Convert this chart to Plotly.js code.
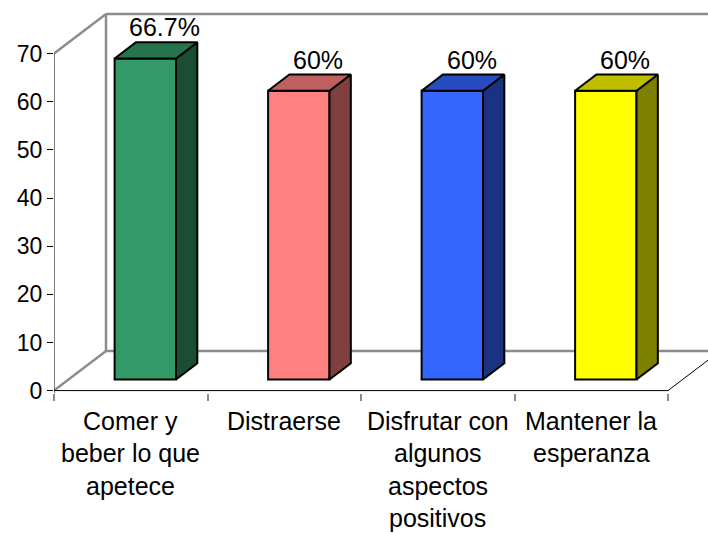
<!DOCTYPE html>
<html>
<head>
<meta charset="utf-8">
<script src="https://cdn.plot.ly/plotly-3.0.1.min.js"></script>
<style>html,body{margin:0;padding:0;background:#fff;}#chart{width:708px;height:533px;}</style>
</head>
<body>
<div id="chart"></div>
<script>
// ---- data ----
var categories = ["Comer y<br>beber lo que<br>apetece", "Distraerse", "Disfrutar con<br>algunos<br>aspectos<br>positivos", "Mantener la<br>esperanza"];
var values = [66.7, 60, 60, 60];
var valueLabels = ["66.7%", "60%", "60%", "60%"];
var yTicks = [0, 10, 20, 30, 40, 50, 60, 70];
var frontColors = ["#339966", "#FF8080", "#3366FF", "#FFFF00"];
var topColors = ["#26734D", "#BF6060", "#264CBF", "#BFBF00"];
var sideColors = ["#1A4D33", "#804040", "#1A3380", "#808000"];

// ---- 3D geometry (layout constants) ----
var PXX = 153.5, PXY = 4.814;
var DX = 52 / PXX, DY = 39.5 / PXY;     // depth offset of back wall, in data units
var F1 = 0.28, F2 = 0.69;               // bar front / back depth fractions
var BW = 0.4;
var font = "Liberation Sans, Arial, Helvetica, sans-serif";

var traces = [];
var xs = [], bases = [];
categories.forEach(function (c, i) {
  xs.push(i + F1 * DX);
  bases.push(F1 * DY);
});
traces.push({
  type: "bar", x: xs, y: values, base: bases, width: BW,
  marker: { color: frontColors, line: { color: "#000", width: 2 } },
  hoverinfo: "skip", showlegend: false
});
var ddx = (F2 - F1) * DX, ddy = (F2 - F1) * DY;
values.forEach(function (v, i) {
  var xl = xs[i] - BW / 2, xr = xs[i] + BW / 2, b = bases[i], t = b + v;
  traces.push({
    type: "scatter", mode: "lines", fill: "toself", fillcolor: sideColors[i],
    x: [xr, xr + ddx, xr + ddx, xr, xr], y: [b, b + ddy, t + ddy, t, b],
    line: { color: "#000", width: 2 }, hoverinfo: "skip", showlegend: false
  });
  traces.push({
    type: "scatter", mode: "lines", fill: "toself", fillcolor: topColors[i],
    x: [xl, xl + ddx, xr + ddx, xr, xl], y: [t, t + ddy, t + ddy, t, t],
    line: { color: "#000", width: 2 }, hoverinfo: "skip", showlegend: false
  });
});

var gray = "#8c8c8c";
var xMin = -0.5, xMax = categories.length - 0.5;
var yMax = yTicks[yTicks.length - 1];
function ln(x0, y0, x1, y1, color, w) {
  return { type: "line", xref: "x", yref: "y", x0: x0, y0: y0, x1: x1, y1: y1, layer: "below",
    line: { color: color, width: w } };
}
var shapes = [
  ln(xMin + DX, DY, xMin + DX, yMax + DY, gray, 2.5),
  ln(xMin + DX, yMax + DY, 10, yMax + DY, gray, 2.5),
  ln(xMin + DX, DY, 10, DY, gray, 2.5),
  ln(xMin, 0, xMin + DX, DY, gray, 2.5),
  ln(xMin, yMax, xMin + DX, yMax + DY, gray, 2.5),
  ln(xMin, 0, xMax, 0, "#000", 1),
  ln(xMax, 0, xMax + DX, DY, "#000", 1),
  ln(xMin, -1.5, xMin, yMax, "#000", 1)
];

var annotations = [];
values.forEach(function (v, i) {
  annotations.push({
    x: i + 0.22, y: v + F2 * DY + 3.1, xref: "x", yref: "y", text: valueLabels[i],
    showarrow: false, xanchor: "center", yanchor: "middle",
    font: { family: font, size: 25, color: "#000" }
  });
});
var PLOT_TOP = 10, PLOT_BOTTOM = 393;
categories.forEach(function (c, i) {
  c.split("<br>").forEach(function (line, k) {
    var py = 421 + 32.3 * k;             // pixel centre of line
    annotations.push({
      x: i, y: (PLOT_BOTTOM - py) / (PLOT_BOTTOM - PLOT_TOP), xref: "x", yref: "paper", text: line,
      showarrow: false, xanchor: "center", yanchor: "middle",
      font: { family: font, size: 25, color: "#000" }
    });
  });
});

var layout = {
  width: 708, height: 533,
  margin: { l: 54, r: 0, t: PLOT_TOP, b: 533 - PLOT_BOTTOM },
  paper_bgcolor: "#fff", plot_bgcolor: "rgba(0,0,0,0)",
  showlegend: false,
  xaxis: {
    range: [xMin, xMin + 654 / PXX], showgrid: false, zeroline: false, showline: false,
    tickvals: [-0.5, 0.5, 1.5, 2.5, 3.5], ticktext: ["", "", "", "", ""],
    ticks: "outside", ticklen: 7, tickwidth: 2, tickcolor: gray, fixedrange: true
  },
  yaxis: {
    range: [-0.5, -0.5 + (PLOT_BOTTOM - PLOT_TOP) / PXY], showgrid: false, zeroline: false, showline: false,
    tickvals: yTicks, ticktext: yTicks.map(String),
    ticks: "outside", ticklen: 6, tickwidth: 1, tickcolor: "#000",
    tickfont: { family: font, size: 23, color: "#000" }, fixedrange: true
  },
  shapes: shapes,
  annotations: annotations
};

Plotly.newPlot("chart", traces, layout, { displayModeBar: false, staticPlot: true });
</script>
</body>
</html>
